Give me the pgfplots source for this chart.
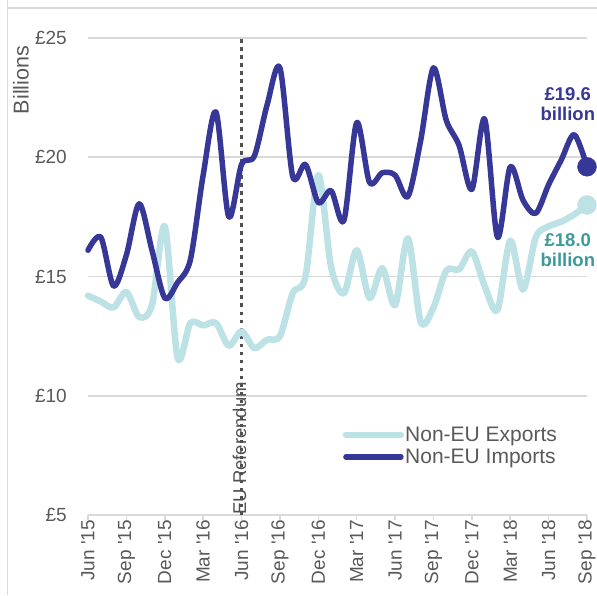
\documentclass[border=0pt]{standalone}
\usepackage{pgfplots}
\pgfplotsset{compat=1.18}
\usepackage{pgfplotstable}
\usepackage{fontspec}
\setmainfont{Liberation Sans}
\definecolor{impcol}{HTML}{373798}
\definecolor{expcol}{HTML}{BCE2E5}
\definecolor{tealtxt}{HTML}{3D9A9B}
\definecolor{gridcol}{HTML}{D9D9D9}
\definecolor{textgray}{HTML}{595959}
\definecolor{refgray}{HTML}{505050}

\pgfplotstableread{
i val
0 14.2
1 13.95
2 13.7
3 14.35
4 13.3
5 13.8
6 17.1
7 11.6
8 13.05
9 12.95
10 13.05
11 12.1
12 12.7
13 12.0
14 12.35
15 12.5
16 14.3
17 15.0
18 19.25
19 15.4
20 14.3
21 16.1
22 14.1
23 15.35
24 13.8
25 16.6
26 13.1
27 13.7
28 15.25
29 15.3
30 16.05
31 14.6
32 13.6
33 16.5
34 14.45
35 16.65
36 17.1
37 17.3
38 17.6
39 18.0
}\exports

\pgfplotstableread{
i val
0 16.1
1 16.65
2 14.6
3 15.9
4 18.05
5 16.1
6 14.1
7 14.75
8 15.7
9 19.25
10 21.9
11 17.5
12 19.7
13 20.05
14 22.2
15 23.75
16 19.2
17 19.7
18 18.1
19 18.6
20 17.35
21 21.45
22 18.95
23 19.35
24 19.25
25 18.35
26 20.7
27 23.75
28 21.55
29 20.5
30 18.65
31 21.6
32 16.65
33 19.6
34 18.2
35 17.65
36 18.85
37 19.9
38 20.95
39 19.6
}\imports

\begin{document}
\begin{tikzpicture}
\path[use as bounding box] (0pt,0pt) rectangle (597pt,595pt);
\draw[gridcol, line width=1.5pt] (7.5pt,0pt) -- (7.5pt,595pt);
\draw[gridcol, line width=1.5pt] (7.5pt,587pt) -- (597pt,587pt);
\node[rotate=90, text=textgray, font=\fontsize{21.5}{24}\selectfont, inner sep=0pt] at (21pt,515pt) {Billions};
\begin{axis}[
  at={(88pt,80pt)}, anchor=south west,
  scale only axis, width=499pt, height=477pt,
  xmin=0, xmax=39, ymin=5, ymax=25,
  clip=false,
  axis x line*=bottom, axis y line*=left,
  y axis line style={draw=none},
  x axis line style={gridcol, line width=1.5pt},
  ytick={5,10,15,20,25},
  yticklabels={£5,£10,£15,£20,£25},
  ytick style={draw=none},
  ymajorgrids, grid style={gridcol, line width=1.5pt},
  xtick={0,3,...,39},
  xticklabels={Jun \textquotesingle15,Sep \textquotesingle15,Dec \textquotesingle15,Mar \textquotesingle16,Jun \textquotesingle16,Sep \textquotesingle16,Dec \textquotesingle16,Mar \textquotesingle17,Jun \textquotesingle17,Sep \textquotesingle17,Dec \textquotesingle17,Mar \textquotesingle18,Jun \textquotesingle18,Sep \textquotesingle18},
  tick align=outside, major tick length=5pt,
  xtick style={gridcol, line width=1.5pt},
  xticklabel style={rotate=90, anchor=east, inner sep=0pt, xshift=0pt, text=textgray, font=\fontsize{19}{21}\selectfont},
  yticklabel style={anchor=east, inner sep=0pt, xshift=-16pt, text=textgray, font=\fontsize{19}{21}\selectfont},
  legend style={at={(0.51,0.145)}, anchor=west, draw=none, fill=none, inner sep=0pt,
    font=\fontsize{21}{23}\selectfont, text=textgray, row sep=4pt,
    nodes={inner sep=1pt}},
  legend cell align=left,
  legend image code/.code={\draw[#1, line cap=round] (0pt,0pt) -- (55pt,0pt);},
]
\draw[refgray, line width=3pt, dash pattern=on 3.5pt off 4.5pt] (axis cs:12,5) -- (axis cs:12,25);
\node[rotate=90, anchor=west, inner sep=0pt, text=refgray, font=\fontsize{18.5}{20}\selectfont] at (axis cs:12,5) [yshift=2pt] {EU Referendum};
\addplot[expcol, line width=6.5pt, smooth, line cap=round, line join=round] table[x=i, y=val] {\exports};
\addlegendentry{Non-EU Exports}
\addplot[impcol, line width=5.5pt, smooth, line cap=round, line join=round] table[x=i, y=val] {\imports};
\addlegendentry{Non-EU Imports}
\addplot[only marks, mark=*, mark size=9.5pt, expcol, forget plot] coordinates {(39,18.0)};
\addplot[only marks, mark=*, mark size=9.5pt, impcol, forget plot] coordinates {(39,19.6)};
\node[align=center, text=impcol, font=\bfseries\fontsize{18.5}{20}\selectfont] at (axis cs:37.5,22.23) {£19.6\\billion};
\node[align=center, text=tealtxt, font=\bfseries\fontsize{18.5}{20}\selectfont] at (axis cs:37.5,16.11) {£18.0\\billion};
\end{axis}
\end{tikzpicture}
\end{document}
